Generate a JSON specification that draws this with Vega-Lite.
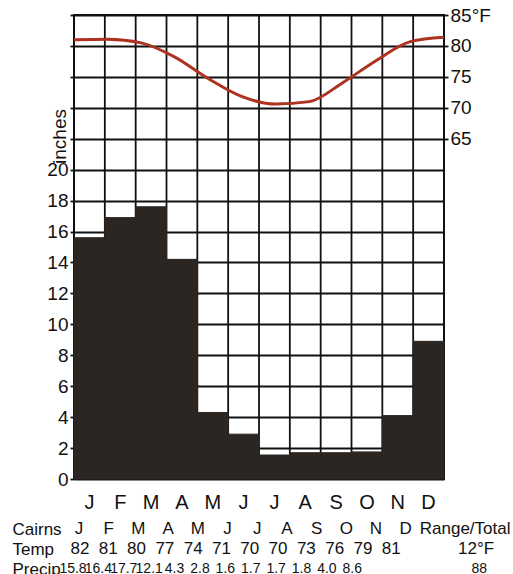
{
  "$schema": "https://vega.github.io/schema/vega-lite/v6.json",
  "padding": {"left": 12, "top": 5, "right": 0, "bottom": 0},
  "config": {
    "font": "Liberation Sans",
    "view": {"stroke": "#111111", "strokeWidth": 2},
    "axis": {"labelFont": "Liberation Sans", "labelColor": "#111111", "titleFont": "Liberation Sans", "titleColor": "#111111"}
  },
  "datasets": {
    "months": [
      {"month": "Jan", "precip": 15.6, "temp": 81.0},
      {"month": "Feb", "precip": 16.9, "temp": 81.1},
      {"month": "Mar", "precip": 17.6, "temp": 80.5},
      {"month": "Apr", "precip": 14.2, "temp": 78.2},
      {"month": "May", "precip": 4.3, "temp": 74.7},
      {"month": "Jun", "precip": 2.9, "temp": 71.8},
      {"month": "Jul", "precip": 1.55, "temp": 70.6},
      {"month": "Aug", "precip": 1.7, "temp": 71.0},
      {"month": "Sep", "precip": 1.7, "temp": 74.1},
      {"month": "Oct", "precip": 1.75, "temp": 77.7},
      {"month": "Nov", "precip": 4.1, "temp": 80.7},
      {"month": "Dec", "precip": 8.9, "temp": 81.4}
    ],
    "table": [
      {"row": "Cairns", "col": "Jan", "text": "J"},
      {"row": "Cairns", "col": "Feb", "text": "F"},
      {"row": "Cairns", "col": "Mar", "text": "M"},
      {"row": "Cairns", "col": "Apr", "text": "A"},
      {"row": "Cairns", "col": "May", "text": "M"},
      {"row": "Cairns", "col": "Jun", "text": "J"},
      {"row": "Cairns", "col": "Jul", "text": "J"},
      {"row": "Cairns", "col": "Aug", "text": "A"},
      {"row": "Cairns", "col": "Sep", "text": "S"},
      {"row": "Cairns", "col": "Oct", "text": "O"},
      {"row": "Cairns", "col": "Nov", "text": "N"},
      {"row": "Cairns", "col": "Dec", "text": "D"},
      {"row": "Cairns", "col": "total", "text": "Range/Total"},
      {"row": "Temp", "col": "Jan", "text": "82"},
      {"row": "Temp", "col": "Feb", "text": "81"},
      {"row": "Temp", "col": "Mar", "text": "80"},
      {"row": "Temp", "col": "Apr", "text": "77"},
      {"row": "Temp", "col": "May", "text": "74"},
      {"row": "Temp", "col": "Jun", "text": "71"},
      {"row": "Temp", "col": "Jul", "text": "70"},
      {"row": "Temp", "col": "Aug", "text": "70"},
      {"row": "Temp", "col": "Sep", "text": "73"},
      {"row": "Temp", "col": "Oct", "text": "76"},
      {"row": "Temp", "col": "Nov", "text": "79"},
      {"row": "Temp", "col": "Dec", "text": "81"},
      {"row": "Temp", "col": "total", "text": "12°F"},
      {"row": "Precip", "col": "Jan", "text": "15.8"},
      {"row": "Precip", "col": "Feb", "text": "16.4"},
      {"row": "Precip", "col": "Mar", "text": "17.7"},
      {"row": "Precip", "col": "Apr", "text": "12.1"},
      {"row": "Precip", "col": "May", "text": "4.3"},
      {"row": "Precip", "col": "Jun", "text": "2.8"},
      {"row": "Precip", "col": "Jul", "text": "1.6"},
      {"row": "Precip", "col": "Aug", "text": "1.7"},
      {"row": "Precip", "col": "Sep", "text": "1.7"},
      {"row": "Precip", "col": "Oct", "text": "1.8"},
      {"row": "Precip", "col": "Nov", "text": "4.0"},
      {"row": "Precip", "col": "Dec", "text": "8.6"},
      {"row": "Precip", "col": "total", "text": "88"}
    ]
  },
  "spacing": 6,
  "vconcat": [
    {
      "width": 370,
      "height": 464,
      "data": {"name": "months"},
      "layer": [
        {
          "mark": {"type": "rule", "color": "#111111", "strokeWidth": 1.8},
          "encoding": {
            "x": {"field": "month", "type": "ordinal", "bandPosition": 0,
              "scale": {"type": "band", "domain": ["Jan","Feb","Mar","Apr","May","Jun","Jul","Aug","Sep","Oct","Nov","Dec"], "paddingInner": 0, "paddingOuter": 0},
              "axis": null}
          }
        },
        {
          "mark": {"type": "bar", "color": "#2b2622", "stroke": "#2b2622", "strokeWidth": 1},
          "encoding": {
            "x": {"field": "month", "type": "ordinal",
              "scale": {"type": "band", "domain": ["Jan","Feb","Mar","Apr","May","Jun","Jul","Aug","Sep","Oct","Nov","Dec"], "paddingInner": 0, "paddingOuter": 0},
              "axis": {"labelExpr": "substring(datum.value, 0, 1)", "ticks": false, "domain": false, "labelPadding": 13, "labelFontSize": 20, "labelAngle": 0, "title": null, "grid": false}},
            "y": {"field": "precip", "type": "quantitative",
              "scale": {"domain": [0, 30], "nice": false, "zero": true},
              "axis": {"values": [0,2,4,6,8,10,12,14,16,18,20,22,24,26,28,30], "labelExpr": "datum.value <= 20 ? datum.label : ''", "labelOverlap": false,
                "grid": true, "gridColor": "#111111", "gridWidth": 1.8, "gridOpacity": 1, "domain": false,
                "ticks": true, "tickSize": 4, "tickColor": "#111111", "tickWidth": 1.8, "labelPadding": 2, "labelFontSize": 19,
                "title": "inches", "titleFontSize": 19, "titleFontWeight": "normal", "titleAngle": 270, "titleX": -9, "titleY": 121, "titleAlign": "center", "titleBaseline": "alphabetic"}}
          }
        },
        {
          "mark": {"type": "line", "color": "#ad3320", "strokeWidth": 3, "interpolate": "monotone"},
          "encoding": {
            "x": {"field": "month", "type": "ordinal",
              "scale": {"type": "point", "domain": ["Jan","Feb","Mar","Apr","May","Jun","Jul","Aug","Sep","Oct","Nov","Dec"], "padding": 0},
              "axis": null},
            "y": {"field": "temp", "type": "quantitative",
              "scale": {"domain": [10, 85], "nice": false, "zero": false},
              "axis": {"orient": "right", "values": [65,70,75,80,85], "labelExpr": "datum.value == 85 ? '85°F' : datum.label", "labelOverlap": false,
                "grid": false, "domain": false, "ticks": true, "tickSize": 4, "tickColor": "#111111", "tickWidth": 1.8, "labelPadding": 2, "labelFontSize": 19, "title": null}}
          }
        }
      ],
      "resolve": {"scale": {"x": "independent", "y": "independent"}}
    },
    {
      "width": 420,
      "height": 60,
      "view": {"stroke": null},
      "data": {"name": "table"},
      "layer": [
        {
          "transform": [{"filter": "datum.row == 'Cairns'"}],
          "mark": {"type": "text", "fontSize": 17, "color": "#111111", "baseline": "middle", "align": "center"},
          "encoding": {
            "x": {"field": "col", "type": "nominal",
              "scale": {"type": "point", "domain": ["Jan","Feb","Mar","Apr","May","Jun","Jul","Aug","Sep","Oct","Nov","Dec","g1","total"], "padding": 0.57, "align": 0.147},
              "axis": null},
            "y": {"field": "row", "type": "nominal",
              "scale": {"domain": ["Cairns", "Temp", "Precip"], "paddingInner": 0, "paddingOuter": 0},
              "axis": {"title": null, "ticks": false, "tickSize": 0, "domain": false, "labelAlign": "left", "labelPadding": 62, "labelFontSize": 17, "labelColor": "#111111"}},
            "text": {"field": "text"}
          }
        },
        {
          "transform": [{"filter": "datum.row == 'Temp'"}],
          "mark": {"type": "text", "fontSize": 17, "color": "#111111", "baseline": "middle", "align": "center"},
          "encoding": {
            "x": {"field": "col", "type": "nominal",
              "scale": {"type": "point", "domain": ["Jan","Feb","Mar","Apr","May","Jun","Jul","Aug","Sep","Oct","Nov","Dec","g1","g2","total"], "padding": 0.42, "align": 0.25},
              "axis": null},
            "y": {"field": "row", "type": "nominal",
              "scale": {"domain": ["Cairns", "Temp", "Precip"], "paddingInner": 0, "paddingOuter": 0},
              "axis": {"title": null, "ticks": false, "tickSize": 0, "domain": false, "labelAlign": "left", "labelPadding": 62, "labelFontSize": 17, "labelColor": "#111111"}},
            "text": {"field": "text"}
          }
        },
        {
          "transform": [{"filter": "datum.row == 'Precip'"}],
          "mark": {"type": "text", "fontSize": 14, "color": "#111111", "baseline": "middle", "align": "center", "dx": -1},
          "encoding": {
            "x": {"field": "col", "type": "nominal",
              "scale": {"type": "point", "domain": ["Jan","Feb","Mar","Apr","May","Jun","Jul","Aug","Sep","Oct","Nov","Dec","g1","g2","g3","g4","total"], "padding": 0.27, "align": 0},
              "axis": null},
            "y": {"field": "row", "type": "nominal",
              "scale": {"domain": ["Cairns", "Temp", "Precip"], "paddingInner": 0, "paddingOuter": 0},
              "axis": {"title": null, "ticks": false, "tickSize": 0, "domain": false, "labelAlign": "left", "labelPadding": 62, "labelFontSize": 17, "labelColor": "#111111"}},
            "text": {"field": "text"}
          }
        }
      ],
      "resolve": {"scale": {"x": "independent"}}
    }
  ]
}
